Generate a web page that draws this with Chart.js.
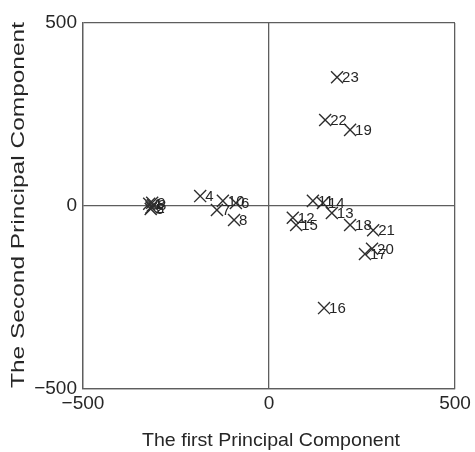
<!DOCTYPE html>
<html>
<head>
<meta charset="utf-8">
<script src="https://cdn.jsdelivr.net/npm/chart.js@4.4.0/dist/chart.umd.min.js"></script>
<style>
  html, body { margin: 0; padding: 0; background: #fff; }
  #wrap { width: 475px; height: 452px; }
</style>
</head>
<body>
<div id="wrap"><canvas id="pcaChart"></canvas></div>
<script>
// --- data ---
const sampleLabels = ['1', '2', '3', '5', '9',
                      '4', '7', '10', '6', '8',
                      '11', '14', '13', '12', '15', '18', '21', '20', '17',
                      '16', '22', '19', '23'];
const pc1Values = [-322, -316, -312, -318, -314,
                   -185, -140, -124, -89, -94,
                   118, 145, 169, 64, 73, 218, 280, 277, 258,
                   148, 151, 218, 183];
const pc2Values = [6, -4, 2, -8, 9,
                   27, -11, 14, 8, -38,
                   14, 8, -19, -32, -52, -52, -66, -117, -131,
                   -279, 235, 208, 352];
const axisTicks = [-500, 0, 500];
const xTitle = 'The first Principal Component';
const yTitle = 'The Second Principal Component';

const FONT = '"Liberation Sans", Arial, Helvetica, sans-serif';
const INK = '#262626';
const LINE = '#5e5e5e';

// tekst uitrekken tot de gewenste breedte
function drawStretched(ctx, text, x, y, angle, width) {
    const natural = ctx.measureText(text).width;
    ctx.save();
    ctx.translate(x, y);
    ctx.rotate(angle);
    ctx.scale(width / natural, 1);
    ctx.fillText(text, 0, 0);
    ctx.restore();
}

// nummer naast elk punt
const pointNumbers = {
    id: 'pointNumbers',
    afterDatasetsDraw(chart) {
        const { ctx } = chart;
        const meta = chart.getDatasetMeta(0);
        ctx.save();
        ctx.font = '15px ' + FONT;
        ctx.fillStyle = INK;
        ctx.textBaseline = 'middle';
        ctx.textAlign = 'left';
        meta.data.forEach((pt, i) => ctx.fillText(sampleLabels[i], pt.x + 5, pt.y + 1));
        ctx.restore();
    }
};

// as-titels
const axisTitles = {
    id: 'axisTitles',
    afterDraw(chart) {
        const { ctx, chartArea } = chart;
        ctx.save();
        ctx.font = '19px ' + FONT;
        ctx.fillStyle = INK;
        ctx.textAlign = 'center';
        ctx.textBaseline = 'middle';
        drawStretched(ctx, xTitle, (chartArea.left + chartArea.right) / 2 + 2, chartArea.bottom + 52, 0, 258);
        drawStretched(ctx, yTitle, 19, (chartArea.top + chartArea.bottom) / 2 - 1, -Math.PI / 2, 366);
        ctx.restore();
    }
};

const fmtTick = (v) => (v < 0 ? '\u2212' + Math.abs(v) : String(v));
const setTicks = (scale) => { scale.ticks = axisTicks.map(v => ({ value: v })); };

new Chart(document.getElementById('pcaChart'), {
    type: 'scatter',
    data: {
        datasets: [{
            data: pc1Values.map((x, i) => ({ x: x, y: pc2Values[i] })),
            pointStyle: 'crossRot',
            pointRadius: 8.5,
            pointHoverRadius: 8.5,
            borderColor: '#2e2e2e',
            backgroundColor: '#2e2e2e',
            borderWidth: 1.4
        }]
    },
    options: {
        responsive: true,
        maintainAspectRatio: false,
        animation: false,
        layout: { padding: { top: 23, right: 20, left: 0, bottom: 0 } },
        plugins: {
            legend: { display: false },
            tooltip: { enabled: false }
        },
        scales: {
            x: {
                type: 'linear',
                position: 'bottom',
                min: -500,
                max: 500,
                afterBuildTicks: setTicks,
                afterFit: (scale) => { scale.height = 63; },
                grid: { color: LINE, lineWidth: 1.3, drawTicks: false },
                border: { display: true, color: LINE, width: 1.3 },
                ticks: {
                    color: INK,
                    font: { family: FONT, size: 19 },
                    padding: 3,
                    maxRotation: 0,
                    callback: fmtTick
                }
            },
            y: {
                type: 'linear',
                min: -500,
                max: 500,
                afterBuildTicks: setTicks,
                afterFit: (scale) => { scale.width = 83; },
                grid: { color: LINE, lineWidth: 1.3, drawTicks: false },
                border: { display: true, color: LINE, width: 1.3 },
                ticks: {
                    color: INK,
                    font: { family: FONT, size: 19 },
                    padding: 6,
                    callback: fmtTick
                }
            }
        }
    },
    plugins: [pointNumbers, axisTitles]
});
</script>
</body>
</html>
